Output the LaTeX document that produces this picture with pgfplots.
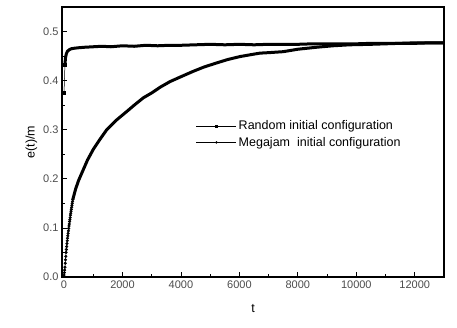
\documentclass[border=0pt]{standalone}
\usepackage{fontspec}
\setmainfont{Liberation Sans}
\usepackage{pgfplots}
\pgfplotsset{compat=1.18}

\begin{document}
\begin{tikzpicture}
\begin{axis}[
    scale only axis,
    width=382pt, height=270pt,
    xmin=-70, xmax=13000,
    ymin=0, ymax=0.55,
    axis line style={line width=1.1pt},
    tick align=inside,
    xtick={0,2000,...,12000},
    scaled x ticks=false,
    minor x tick num=1,
    ytick={0,0.1,...,0.5},
    minor y tick num=1,
    xtick pos=bottom, ytick pos=left,
    major tick length=5pt, minor tick length=3pt,
    every tick/.style={black, line width=0.8pt},
    /pgf/number format/assume math mode=true,
    xticklabel style={/pgf/number format/1000 sep={}, font=\fontsize{11}{13}\selectfont, text=black!70},
    yticklabel style={/pgf/number format/fixed, /pgf/number format/fixed zerofill, /pgf/number format/precision=1, font=\fontsize{11}{13}\selectfont, text=black!70},
    xlabel={t}, ylabel={e(t)/m},
    label style={font=\fontsize{12.5}{14}\selectfont},
    xlabel style={yshift=-9pt},
    ylabel style={yshift=-1pt},
    legend style={draw=none, fill=none, at={(0.343,0.595)}, anchor=north west,
        font=\fontsize{12.5}{14}\selectfont, row sep=2pt},
    legend cell align=left,
    legend image code/.code={\draw[mark repeat=2,mark phase=2,#1] plot coordinates {(0pt,0pt)(20pt,0pt)(40pt,0pt)};},
]
\addlegendimage{black, line width=0.5pt, mark=square*, mark size=1pt}
\addlegendentry{Random initial configuration}
\addlegendimage{black, line width=0.5pt, mark=*, mark size=1pt}
\addlegendentry{Megajam\ \ initial configuration}

% Random: first points
\addplot[black, line width=0.5pt, mark=square*, mark size=1.3pt, forget plot] coordinates {
(0,0.375) (30,0.432)
};
\addplot[black, line width=3pt, forget plot] coordinates {
(30,0.432) (50,0.447) (80,0.455) (120,0.460) (180,0.463) (250,0.465) (350,0.466)
(500,0.467) (700,0.468) (1000,0.469) (1300,0.470) (1600,0.469) (2000,0.471)
(2400,0.470) (2800,0.472) (3200,0.471) (3600,0.472) (4000,0.472) (4500,0.473)
(5000,0.474) (5500,0.473) (6000,0.474) (6500,0.473) (7000,0.474) (7500,0.474)
(8000,0.474) (8500,0.475) (9000,0.475) (9500,0.475) (10000,0.475) (10500,0.476)
(11000,0.476) (11500,0.476) (12000,0.477) (12500,0.477) (13000,0.477)
};

% Megajam: dotted start
\addplot[black, line width=0.5pt, mark=*, mark size=1.3pt, forget plot] coordinates {
(0,0.004) (10,0.009) (20,0.014) (30,0.02) (40,0.028) (50,0.035) (60,0.042)
(70,0.05) (80,0.056) (90,0.062) (100,0.068) (110,0.074) (120,0.079) (130,0.084)
(140,0.089) (150,0.094) (160,0.099) (170,0.104) (180,0.108) (190,0.113)
(200,0.117) (210,0.121) (220,0.126) (230,0.130) (240,0.134) (250,0.138)
(260,0.142) (270,0.146) (280,0.150) (290,0.154) (300,0.158)
};
\addplot[black, line width=3pt, forget plot] coordinates {
(300,0.158) (400,0.180) (500,0.197) (661,0.219) (800,0.238) (1000,0.260)
(1200,0.278) (1460,0.300) (1800,0.320) (2143,0.337) (2400,0.350) (2712,0.365)
(3000,0.375) (3300,0.387) (3624,0.398) (4000,0.408) (4421,0.419) (4800,0.428)
(5219,0.436) (5600,0.443) (6017,0.449) (6400,0.453) (6700,0.456) (7000,0.457)
(7500,0.459) (8000,0.464) (8638,0.468) (9200,0.471) (9778,0.473) (10500,0.474)
(11000,0.475) (11500,0.476) (12000,0.476) (12500,0.477) (13000,0.477)
};
\end{axis}
\path ([shift={(-62pt,-50pt)}]current axis.south west) rectangle ([shift={(13pt,7pt)}]current axis.north east);
\end{tikzpicture}
\end{document}
